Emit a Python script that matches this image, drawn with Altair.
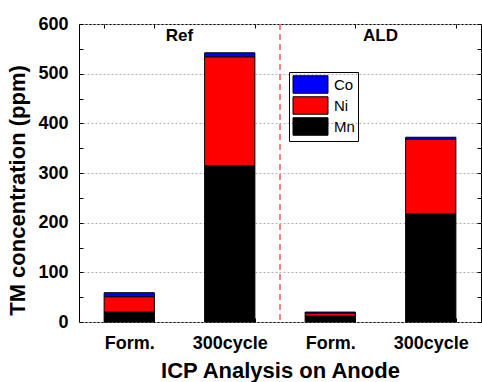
import altair as alt
import pandas as pd

keys = ["Ref_Form.", "Ref_300cycle", "ALD_Form.", "ALD_300cycle"]
mn = [20, 315, 12, 218]
ni = [31, 219, 6, 150]
co = [8, 8, 2, 4]
elements = ["Mn", "Ni", "Co"]
legend_order = ["Co", "Ni", "Mn"]
legend_colors = ["#0000ff", "#ff0000", "#000000"]
group_labels = ["Ref", "ALD"]
group_anchor = ["Ref_Form.", "ALD_Form."]
group_label_y = [576, 576]
separator_anchor = ["ALD_Form."]
y_ticks = [0, 50, 100, 150, 200, 250, 300, 350, 400, 450, 500, 550, 600]

FONT = "Arial, Liberation Sans"
TICK = 4
major = "datum.value % 100 == 0"

rows = []
for i, k in enumerate(keys):
    for j, (el, vals) in enumerate(zip(elements, [mn, ni, co])):
        rows.append({"key": k, "element": el, "value": vals[i], "order": j})
df = pd.DataFrame(rows)

x_scale = alt.Scale(domain=keys, paddingInner=0.5, paddingOuter=0.25)
y_scale = alt.Scale(domain=[0, 600], nice=False)

bars = alt.Chart(df).mark_bar(stroke="black", strokeWidth=1).encode(
    x=alt.X("key:N", scale=x_scale, sort=keys,
            axis=alt.Axis(title="ICP Analysis on Anode",
                          labelExpr="split(datum.value,'_')[1]",
                          labelAngle=0, labelFont=FONT, labelFontSize=18,
                          labelFontWeight="bold", labelColor="black",
                          labelPadding=8 + TICK, ticks=True, tickSize=TICK,
                          tickColor="black", tickBand="extent", offset=-TICK,
                          domain=False,
                          titleFont=FONT, titleFontSize=22, titleFontWeight="bold",
                          titleColor="black", titlePadding=8, grid=False)),
    y=alt.Y("value:Q", stack="zero", scale=y_scale,
            axis=alt.Axis(title="TM concentration (ppm)", values=y_ticks,
                          labelExpr=f"{major} ? datum.label : ''",
                          labelFont=FONT, labelFontSize=18, labelFontWeight="bold",
                          labelColor="black", labelPadding=7 + TICK,
                          ticks=True, tickSize=TICK, tickColor="black", offset=-TICK,
                          domain=False, titleFont=FONT, titleFontSize=22,
                          titleFontWeight="bold", titleColor="black", titlePadding=8,
                          titleY=166,
                          grid=True, gridColor="#b0b0b0", gridDash=[2, 2],
                          gridWidth=1,
                          gridOpacity=alt.ConditionalAxisNumber(
                              condition={"test": major, "value": 1}, value=0))),
    color=alt.Color("element:N",
                    scale=alt.Scale(domain=legend_order, range=legend_colors),
                    legend=alt.Legend(title=None, orient="none", legendX=210, legendY=48,
                                      symbolType="M-2,-1H2V1H-2Z", symbolSize=306,
                                      symbolOffset=9,
                                      symbolStrokeColor="black", symbolStrokeWidth=1,
                                      symbolOpacity=1, labelFont=FONT, labelFontSize=15,
                                      labelColor="black", strokeColor="black",
                                      padding=3, rowPadding=-3, labelOffset=14)),
    order=alt.Order("order:Q", sort="ascending"),
)

sep = alt.Chart(pd.DataFrame({"key": separator_anchor})).mark_rule(
    color="#ff5a5a", strokeDash=[6, 4], strokeWidth=1.5,
    xOffset={"expr": "-bandwidth('x')/2"}
).encode(x=alt.X("key:N", bandPosition=0, axis=None))

txt = alt.Chart(pd.DataFrame({"key": group_anchor, "label": group_labels,
                              "y": group_label_y})).mark_text(
    font=FONT, fontSize=17, fontWeight="bold", color="black", baseline="middle",
    xOffset={"expr": "bandwidth('x')"}
).encode(
    x=alt.X("key:N", axis=alt.Axis(orient="top", title=None, labels=False, domain=False,
                                   ticks=True, tickSize=TICK, tickColor="black",
                                   tickBand="extent", offset=-TICK, grid=False)),
    y=alt.Y("y:Q", axis=alt.Axis(orient="right", title=None, labels=False, domain=False,
                                 values=y_ticks, ticks=True, tickSize=TICK,
                                 tickColor="black", offset=-TICK, grid=False)),
    text="label:N",
)

chart = alt.layer(bars, sep, txt).resolve_axis(x="independent", y="independent").properties(
    width=402, height=298,
    autosize=alt.AutoSizeParams(type="none"),
    padding={"left": 79, "top": 24, "right": 1, "bottom": 60},
).configure_view(stroke="black", strokeWidth=1)

chart.save("out.html", embed_options={"renderer": "svg", "actions": False})
